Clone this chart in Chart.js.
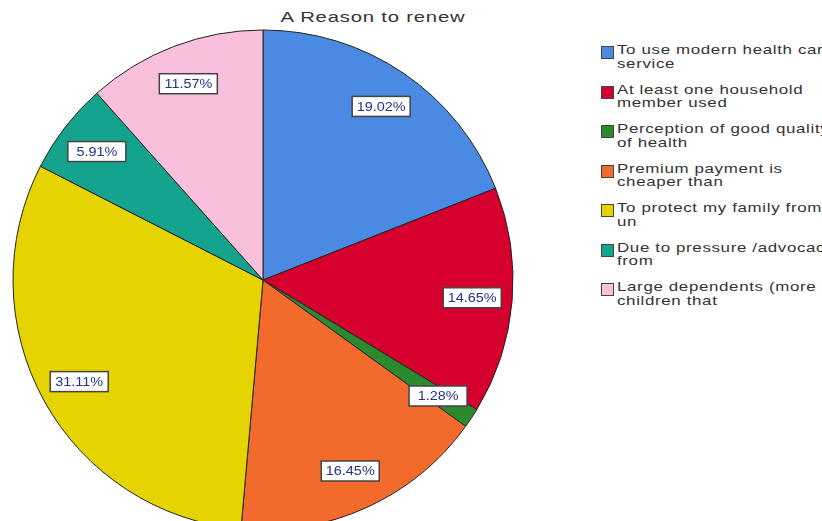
<!DOCTYPE html>
<html lang="en">
<head>
    <meta charset="UTF-8">
    <title>A Reason to renew</title>
    <script src="https://cdn.jsdelivr.net/npm/chart.js"></script>
    <style>
        html, body {
            margin: 0;
            padding: 0;
            width: 822px;
            height: 521px;
            overflow: hidden;
            background: #ffffff;
            font-family: "Liberation Sans", Arial, sans-serif;
        }

        .title {
            position: absolute;
            left: 200px;
            width: 346px;
            top: 8px;
            text-align: center;
            font-size: 15px;
            letter-spacing: 0.6px;
            color: #333;
            transform: scaleX(1.35);
            transform-origin: 173px 0;
        }

        .pie-box {
            position: absolute;
            left: 0;
            top: 0;
            width: 526px;
            height: 560px;
        }

        .legend {
            position: absolute;
            left: 601px;
            top: 43px;
            width: 240px;
        }

        .legend-item {
            position: relative;
            height: 39.5px;
            padding-left: 16px;
            font-size: 13px;
            line-height: 13.5px;
            letter-spacing: 0.5px;
            color: #333;
            white-space: nowrap;
        }

        .legend-text {
            display: inline-block;
            transform: scaleX(1.3);
            transform-origin: 0 0;
        }

        .legend-swatch {
            position: absolute;
            left: 0;
            top: 3px;
            width: 11px;
            height: 11px;
            border: 1px solid #444;
        }
    </style>
</head>
<body>
    <div class="title">A Reason to renew</div>
    <div class="pie-box"><canvas id="pie"></canvas></div>
    <div class="legend" id="legend"></div>

    <script>
        const categories = [
            ["To use modern health care", "service"],
            ["At least one household", "member used"],
            ["Perception of good quality", "of health"],
            ["Premium payment is", "cheaper than"],
            ["To protect my family from", "un"],
            ["Due to pressure /advocacy", "from"],
            ["Large dependents (more", "children that"]
        ];
        const percents = [19.02, 14.65, 1.28, 16.45, 31.11, 5.91, 11.57];
        const sliceColors = ['#4a8ae2', '#d6002e', '#2b8a2e', '#f26a2c', '#e6d400', '#14a48e', '#f8c0da'];

        // legend on the right, built from the same arrays
        const legend = document.getElementById('legend');
        categories.forEach((lines, i) => {
            const item = document.createElement('div');
            item.className = 'legend-item';
            item.innerHTML = `<span class="legend-swatch" style="background:${sliceColors[i]}"></span><span class="legend-text">${lines.join('<br>')}</span>`;
            legend.appendChild(item);
        });

        // boxed percentage labels inside each slice
        const boxLabels = {
            id: 'boxLabels',
            afterDatasetsDraw(chart) {
                const ctx = chart.ctx;
                const arcs = chart.getDatasetMeta(0).data;
                ctx.save();
                ctx.font = '12px "Liberation Sans", Arial, sans-serif';
                ctx.textAlign = 'center';
                ctx.textBaseline = 'middle';
                arcs.forEach((arc, i) => {
                    const mid = (arc.startAngle + arc.endAngle) / 2;
                    const r = arc.outerRadius * 0.84;
                    const x = arc.x + Math.cos(mid) * r;
                    const y = arc.y + Math.sin(mid) * r;
                    const text = percents[i].toFixed(2) + '%';
                    const w = 58, h = 20;
                    ctx.fillStyle = '#ffffff';
                    ctx.fillRect(x - w / 2, y - h / 2, w, h);
                    ctx.strokeStyle = '#444';
                    ctx.lineWidth = 1.5;
                    ctx.strokeRect(x - w / 2, y - h / 2, w, h);
                    ctx.fillStyle = '#22318a';
                    ctx.save();
                    ctx.translate(x, y + 1);
                    ctx.scale(1.2, 1);
                    ctx.fillText(text, 0, 0);
                    ctx.restore();
                });
                ctx.restore();
            }
        };

        new Chart(document.getElementById('pie'), {
            type: 'pie',
            data: {
                labels: categories.map(c => c.join(' ')),
                datasets: [{
                    data: percents,
                    backgroundColor: sliceColors,
                    borderColor: '#222',
                    borderWidth: 1
                }]
            },
            options: {
                responsive: true,
                maintainAspectRatio: false,
                animation: false,
                radius: 250,
                layout: { padding: 0 },
                plugins: {
                    legend: { display: false },
                    tooltip: { enabled: false }
                }
            },
            plugins: [boxLabels]
        });
    </script>
</body>
</html>
